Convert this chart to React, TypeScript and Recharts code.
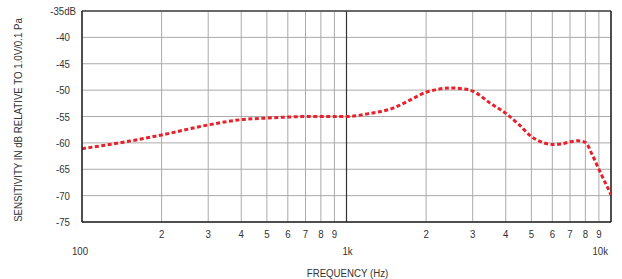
import React from 'react';
import { LineChart, Line, XAxis, YAxis, CartesianGrid, ReferenceLine } from 'recharts';

// frequency response
const FREQ = [100, 150, 200, 300, 400, 500, 600, 700, 800, 1000, 1200, 1500, 1800, 2000, 2500, 2800, 3000, 3500, 4000, 4500, 5000, 5500, 6000, 6500, 7000, 7500, 8000, 8500, 9000, 10000];
const SENS = [-61.1, -59.7, -58.5, -56.6, -55.6, -55.3, -55.1, -55.0, -55.0, -55.0, -54.5, -53.4, -51.5, -50.4, -49.6, -49.8, -50.2, -52.5, -54.4, -56.6, -58.8, -59.9, -60.3, -60.2, -59.8, -59.6, -59.9, -62.3, -65.0, -69.8];

const X_TICKS = [100, 200, 300, 400, 500, 600, 700, 800, 900, 1000, 2000, 3000, 4000, 5000, 6000, 7000, 8000, 9000, 10000];
const Y_TICKS = [-75, -70, -65, -60, -55, -50, -45, -40, -35];
const MAJOR_LABELS: Record<number, string> = { 100: '100', 1000: '1k', 10000: '10k' };

const FONT = '"Liberation Sans", Arial, sans-serif';
const TXT = '#333';
const SQUEEZE = 0.88; // reference uses a condensed face

const data = FREQ.map((f, i) => ({ f, db: SENS[i] }));

// text squeezed horizontally around its anchor point
const Narrow = ({ x, y, anchor = 'middle', rotate = 0, children }: any) => (
  <text
    x={0}
    y={0}
    transform={`translate(${x}, ${y}) rotate(${rotate}) scale(${SQUEEZE}, 1)`}
    textAnchor={anchor}
    fontSize={11}
    fontFamily={FONT}
    fill={TXT}
  >
    {children}
  </text>
);

const XTick = (props: any) => {
  const { x, y, payload } = props;
  const v = payload.value as number;
  const major = MAJOR_LABELS[v];
  if (major) {
    let dx = 0;
    let anchor = 'middle';
    if (v === 100) dx = -2;
    if (v === 1000) dx = 1;
    if (v === 10000) { anchor = 'end'; dx = -3; }
    return <Narrow x={x + dx} y={y + 33} anchor={anchor}>{major}</Narrow>;
  }
  const digit = String(Math.round(v / (v >= 1000 ? 1000 : 100)));
  return <Narrow x={x} y={y + 15.5}>{digit}</Narrow>;
};

const YTick = (props: any) => {
  const { y, payload } = props;
  const v = payload.value as number;
  if (v === -35) return <Narrow x={76} y={y + 4} anchor="end">-35dB</Narrow>;
  return <Narrow x={70} y={y + 4} anchor="end">{v}</Narrow>;
};

const YLabel = (props: any) => {
  const vb = props.viewBox || { x: 0, y: 11, height: 211 };
  const cy = vb.y + vb.height / 2 + 3.5;
  return <Narrow x={22} y={cy} rotate={-90}>SENSITIVITY IN dB RELATIVE TO 1.0V/0.1 Pa</Narrow>;
};

const XLabel = (props: any) => {
  const vb = props.viewBox || { x: 82, y: 222, width: 529 };
  const cx = vb.x + vb.width / 2 + 1;
  return <Narrow x={cx} y={277}>FREQUENCY (Hz)</Narrow>;
};

export default function App() {
  return (
    <div style={{ position: 'absolute', left: 0, top: 0, width: 622, height: 279, background: '#fff' }}>
      <LineChart width={622} height={279} data={data} margin={{ top: 11, right: 11, left: 0, bottom: 0 }}>
        <CartesianGrid stroke="#aaa" strokeWidth={1} />
        <XAxis
          dataKey="f"
          type="number"
          scale="log"
          domain={[100, 10000]}
          ticks={X_TICKS}
          interval={0}
          allowDataOverflow
          height={57}
          tickSize={0}
          tickMargin={0}
          tickLine={false}
          axisLine={{ stroke: '#222', strokeWidth: 1.5 }}
          tick={<XTick />}
          label={<XLabel />}
        />
        <YAxis
          type="number"
          domain={[-75, -35]}
          ticks={Y_TICKS}
          interval={0}
          allowDataOverflow
          width={82}
          tickSize={0}
          tickMargin={0}
          tickLine={false}
          axisLine={{ stroke: '#222', strokeWidth: 1.5 }}
          tick={<YTick />}
          label={<YLabel />}
        />
        <ReferenceLine x={1000} stroke="#333" strokeWidth={1.2} />
        <ReferenceLine y={-35} stroke="#444" strokeWidth={1.5} />
        <ReferenceLine x={10000} stroke="#222" strokeWidth={1.5} />
        <Line
          type="monotone"
          dataKey="db"
          stroke="#e8202a"
          strokeWidth={3}
          strokeDasharray="4 2.5"
          dot={false}
          isAnimationActive={false}
        />
      </LineChart>
    </div>
  );
}
